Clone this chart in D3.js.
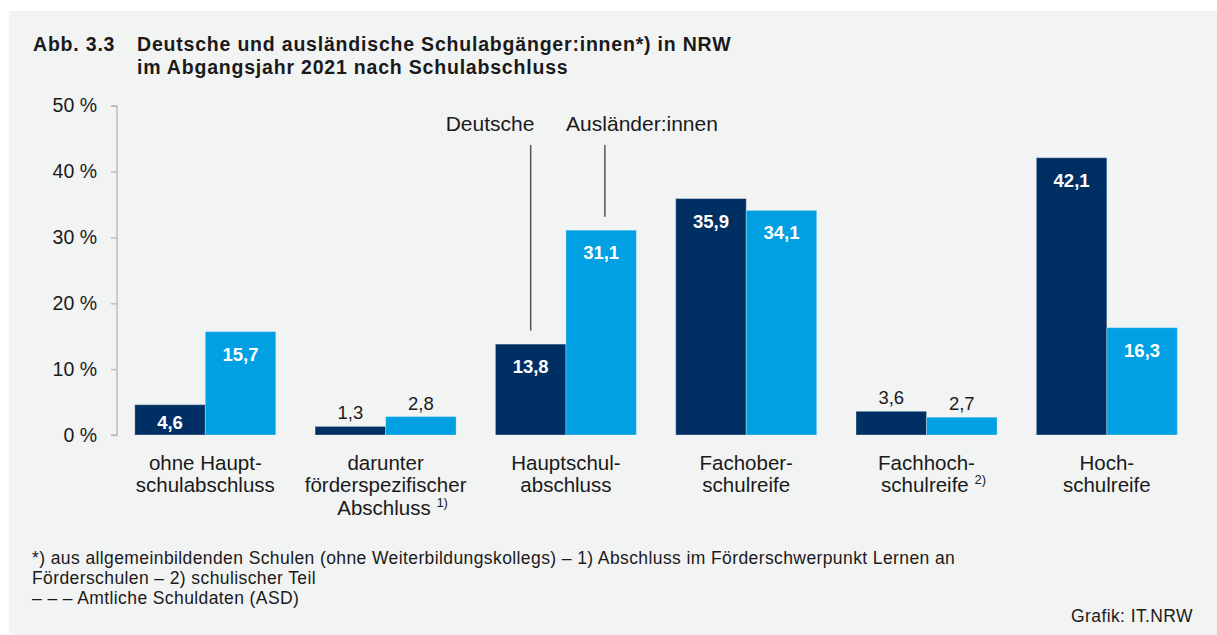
<!DOCTYPE html>
<html>
<head>
<meta charset="utf-8">
<script src="https://cdn.jsdelivr.net/npm/d3@7"></script>
<style>
  html, body { margin: 0; padding: 0; background: #ffffff; }
  svg { display: block; font-family: "Liberation Sans", Arial, sans-serif; }
</style>
</head>
<body>
<div id="chart"></div>
<script>
// Data
const categoryLines = [
  ['ohne Haupt-', 'schulabschluss'],
  ['darunter', 'förderspezifischer', 'Abschluss'],
  ['Hauptschul-', 'abschluss'],
  ['Fachober-', 'schulreife'],
  ['Fachhoch-', 'schulreife'],
  ['Hoch-', 'schulreife']
];
const categoryNotes = ['', '1)', '', '', '2)', ''];
const seriesNames = ['Deutsche', 'Ausländer:innen'];
const deutsche = [4.6, 1.3, 13.8, 35.9, 3.6, 42.1];
const auslaender = [15.7, 2.8, 31.1, 34.1, 2.7, 16.3];
const yTicks = [0, 10, 20, 30, 40, 50];

const titleLines = [
  'Deutsche und ausländische Schulabgänger:innen*) in NRW',
  'im Abgangsjahr 2021 nach Schulabschluss'
];
const footnotes = [
  '*) aus allgemeinbildenden Schulen (ohne Weiterbildungskollegs) – 1) Abschluss im Förderschwerpunkt Lernen an',
  'Förderschulen – 2) schulischer Teil',
  '– – – Amtliche Schuldaten (ASD)'
];

// Config
const W = 1217, H = 635;
const COLORS = {
  bg: '#f2f3f3',
  text: '#1a1a1a',
  axis: '#bdbdbd',
  pointer: '#555555',
  series: ['#002f63', '#00a0e3']
};

const svg = d3.select('#chart').append('svg')
  .attr('width', W)
  .attr('height', H);

// panel background
svg.append('rect')
  .attr('x', 9).attr('y', 11)
  .attr('width', W - 9).attr('height', H - 11)
  .attr('fill', COLORS.bg);

// title
const title = svg.append('g')
  .attr('font-weight', 'bold')
  .attr('font-size', 19.5)
  .attr('letter-spacing', 0.8)
  .attr('fill', COLORS.text);
title.append('text').attr('x', 33).attr('y', 51).text('Abb. 3.3');
titleLines.forEach((t, i) => {
  title.append('text').attr('x', 137).attr('y', 51 + i * 22.5).text(t);
});

// scales
const y = d3.scaleLinear().domain([0, 50]).range([435, 105.7]);
const x = d3.scaleBand()
  .domain(d3.range(categoryLines.length))
  .range([115.15, 1197])
  .paddingInner(0.218)
  .paddingOuter(0.109);
const xs = d3.scaleBand()
  .domain(seriesNames)
  .range([0, x.bandwidth()]);

// y axis
const yAxis = d3.axisLeft(y)
  .tickValues(yTicks)
  .tickSize(6)
  .tickPadding(14)
  .tickFormat(d => d + ' %');

const axisG = svg.append('g')
  .attr('transform', 'translate(117,0)')
  .call(yAxis);
axisG.select('.domain').attr('stroke', COLORS.axis).attr('stroke-width', 1.5)
  .attr('d', `M-6,${y(50)}H0V${y(0)}H-6`);
axisG.selectAll('.tick line').attr('stroke', COLORS.axis).attr('stroke-width', 1.5);
axisG.selectAll('.tick text')
  .attr('font-size', 19.5)
  .attr('font-family', '"Liberation Sans", Arial, sans-serif')
  .attr('fill', COLORS.text);

// bars
const rows = categoryLines.map((c, i) => ({
  i,
  values: [
    { s: seriesNames[0], v: deutsche[i] },
    { s: seriesNames[1], v: auslaender[i] }
  ]
}));

const groups = svg.append('g').selectAll('g')
  .data(rows)
  .join('g')
  .attr('transform', d => `translate(${x(d.i)},0)`);

groups.selectAll('rect')
  .data(d => d.values)
  .join('rect')
  .attr('x', d => xs(d.s))
  .attr('y', d => y(d.v))
  .attr('width', xs.bandwidth())
  .attr('height', d => y(0) - y(d.v))
  .attr('fill', d => COLORS.series[seriesNames.indexOf(d.s)])
  .attr('stroke', '#ffffff')
  .attr('stroke-opacity', 0.3)
  .attr('stroke-width', 1);

// value labels
const fmt = v => d3.format('.1f')(v).replace('.', ',');
groups.selectAll('text.val')
  .data(d => d.values)
  .join('text')
  .attr('class', 'val')
  .attr('x', d => xs(d.s) + xs.bandwidth() / 2)
  .attr('y', d => d.v >= 4
    ? Math.min(y(d.v) + 29, y(0) - 6.5)
    : y(d.v) - 7)
  .attr('text-anchor', 'middle')
  .attr('font-size', 18.5)
  .attr('font-weight', d => d.v >= 4 ? 'bold' : 'normal')
  .attr('fill', d => d.v >= 4 ? '#ffffff' : COLORS.text)
  .text(d => fmt(d.v));

// category labels
const catG = svg.append('g').attr('font-size', 20.5).attr('fill', COLORS.text).attr('text-anchor', 'middle');
categoryLines.forEach((lines, i) => {
  const cx = x(i) + x.bandwidth() / 2;
  lines.forEach((line, k) => {
    const t = catG.append('text')
      .attr('x', cx)
      .attr('y', 469.5 + k * 22.5);
    const last = k === lines.length - 1;
    if (last && categoryNotes[i]) {
      t.append('tspan').text(line + ' ');
      t.append('tspan').attr('font-size', 13).attr('dy', -8).text(categoryNotes[i]);
      t.attr('dx', 7);
    } else {
      t.text(line);
    }
  });
});

// series pointers (Hauptschulabschluss group)
const pi = 2;
const pointerG = svg.append('g');
rows[pi].values.forEach((d, j) => {
  const px = x(pi) + xs(d.s) + xs.bandwidth() / 2 + (j === 1 ? 3.7 : 0);
  pointerG.append('line')
    .attr('x1', px).attr('x2', px)
    .attr('y1', 145).attr('y2', y(d.v) - 13.5)
    .attr('stroke', COLORS.pointer)
    .attr('stroke-width', 1.5);
});
pointerG.append('text')
  .attr('x', 490).attr('y', 131)
  .attr('text-anchor', 'middle')
  .attr('font-size', 21).attr('fill', COLORS.text)
  .text(seriesNames[0]);
pointerG.append('text')
  .attr('x', 642).attr('y', 131)
  .attr('text-anchor', 'middle')
  .attr('font-size', 21).attr('fill', COLORS.text)
  .text(seriesNames[1]);

// footnotes
const foot = svg.append('g')
  .attr('font-size', 17.5)
  .attr('letter-spacing', 0.4)
  .attr('fill', COLORS.text);
footnotes.forEach((t, i) => {
  foot.append('text').attr('x', 32).attr('y', 564 + i * 20).text(t);
});
foot.append('text')
  .attr('x', 1193).attr('y', 622)
  .attr('text-anchor', 'end')
  .text('Grafik: IT.NRW');
</script>
</body>
</html>
